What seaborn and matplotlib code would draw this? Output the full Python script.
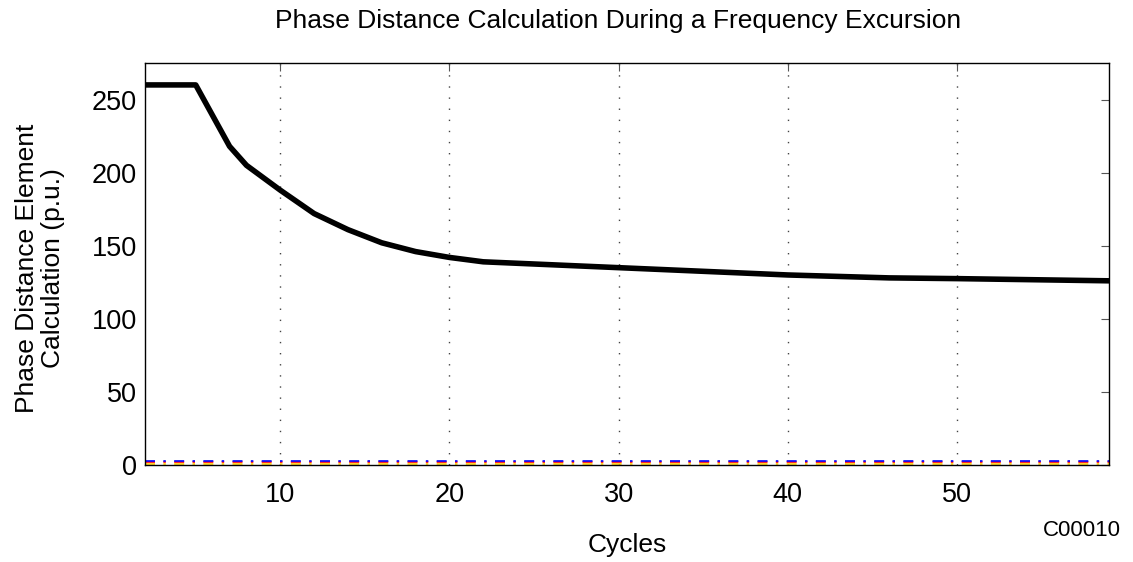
import numpy as np
import pandas as pd
import seaborn as sns
import matplotlib
matplotlib.use("Agg")
import matplotlib.pyplot as plt

sns.set_style("white")
plt.rcParams['font.family'] = ['Liberation Sans', 'DejaVu Sans']

cycles = [2, 5, 7, 8, 10, 12, 14, 16, 18, 20, 22, 24, 30, 40, 46, 50, 59]
phase_dist = [260, 260, 218, 205, 188, 172, 161, 152, 146, 142, 139, 138, 135, 130, 128, 127.5, 126]
x_flat = [2, 59]
blue_vals = [3, 3]
red_vals = [2, 2]
yellow_vals = [1, 1]

df = pd.DataFrame({"Cycles": cycles, "Value": phase_dist})

fig = plt.figure(figsize=(11.33, 5.62), dpi=100)
ax = fig.add_axes([145/1133, 1 - 465/562, (1109-145)/1133, (465-63)/562])

dashdot = (0, (6, 5, 1.5, 5))
ax.plot(x_flat, yellow_vals, color="#ffcc00", lw=1.2, ls=dashdot)
ax.plot(x_flat, red_vals, color="#ff0000", lw=1.2, ls=dashdot)
ax.plot(x_flat, blue_vals, color="#0000ff", lw=1.2, ls=dashdot)
sns.lineplot(data=df, x="Cycles", y="Value", color="black", lw=4, ax=ax)

ax.set_xlim(2, 59)
ax.set_ylim(0, 275)
ax.set_xticks([10, 20, 30, 40, 50])
ax.set_yticks([0, 50, 100, 150, 200, 250])
ax.xaxis.grid(True, ls=(0, (1, 7)), color="#444444", lw=1)
ax.tick_params(direction="in", length=6, labelsize=19.5, top=True, right=True,
               labelcolor="black", color="#555555")
ax.tick_params(axis="x", pad=12)
ax.tick_params(axis="y", pad=6)
for s in ax.spines.values():
    s.set_color("black")
    s.set_linewidth(1)
ax.set_xlabel("Cycles", fontsize=19, color="black")
ax.xaxis.set_label_coords(0.5, (465 - 533) / 402)
ax.set_ylabel("Phase Distance Element\nCalculation (p.u.)", fontsize=19, color="black",
              linespacing=1.1)
ax.yaxis.set_label_coords((65 - 145) / 964, 0.49)
fig.text(618/1133, 1 - 21/562, "Phase Distance Calculation During a Frequency Excursion",
         ha="center", va="center", fontsize=19, color="black")
fig.text(1121/1133, 1 - 531/562, "C00010", ha="right", va="center", fontsize=16, color="black")

fig.savefig("out.png", dpi=100)
